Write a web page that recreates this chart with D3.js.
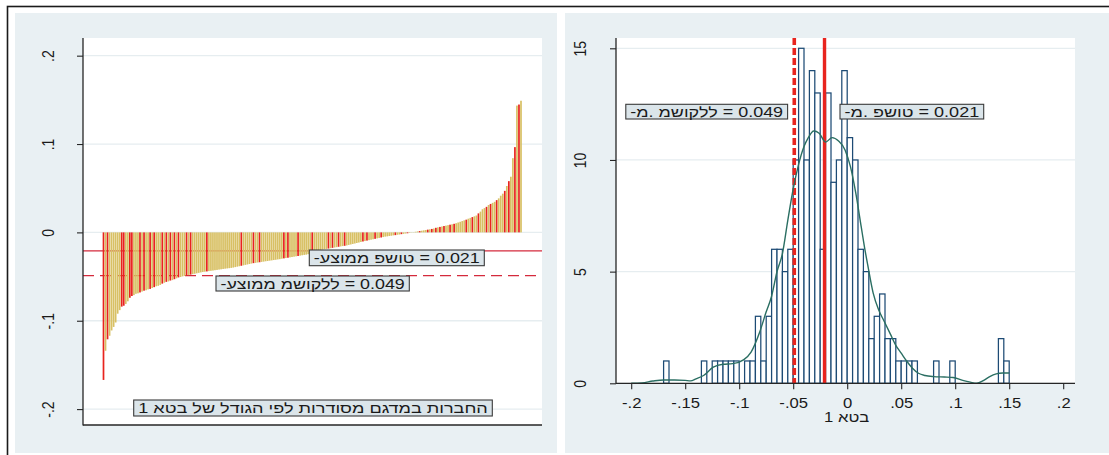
<!DOCTYPE html>
<html>
<head>
<meta charset="utf-8">
<script src="https://cdn.jsdelivr.net/npm/d3@7"></script>
<style>
body { margin: 0; background: #fff; }
text { font-family: "Liberation Sans", Arial, sans-serif; font-size: 14px; fill: #1a1a1a; }
</style>
</head>
<body>
<svg id="chart" width="1109" height="455"></svg>
<script>
// Beta of each firm in the sample (ascending)
var betas = [
  -0.167, -0.134,
  -0.121, -0.117, -0.111, -0.107, -0.102,
  -0.092, -0.088,
  -0.084, -0.083, -0.081, -0.078,
  -0.074, -0.072, -0.071,
  -0.0695, -0.069, -0.068, -0.067, -0.066, -0.0655,
  -0.0645, -0.064, -0.063, -0.062, -0.061, -0.0605,
  -0.0595, -0.058, -0.057, -0.056, -0.0555,
  -0.0545, -0.054, -0.053, -0.052, -0.051, -0.0505,
  -0.0498, -0.0493, -0.0488, -0.0483, -0.0478, -0.0473, -0.0468, -0.0463, -0.0458, -0.0453,
  -0.0448, -0.0445, -0.0442, -0.0438, -0.0435, -0.0432, -0.0428, -0.0425, -0.0421, -0.0418, -0.0414, -0.0411, -0.0408, -0.0405, -0.0402,
  -0.0398, -0.0393, -0.0388, -0.0383, -0.0378, -0.0373, -0.0368, -0.0363, -0.0358, -0.0353,
  -0.0348, -0.0345, -0.0341, -0.0338, -0.0334, -0.0331, -0.0327, -0.0324, -0.032, -0.0317, -0.0313, -0.031, -0.0306, -0.0303,
  -0.0298, -0.0294, -0.029, -0.0287, -0.0283, -0.0279, -0.0275, -0.0271, -0.0267, -0.0263, -0.0259, -0.0255, -0.0252,
  -0.0247, -0.0239, -0.0231, -0.0222, -0.0214, -0.0205,
  -0.0198, -0.0194, -0.019, -0.0187, -0.0183, -0.0179, -0.0175, -0.0171, -0.0167, -0.0163, -0.0159, -0.0155, -0.0152,
  -0.0148, -0.0142, -0.0137, -0.0131, -0.0126, -0.012, -0.0115, -0.0109, -0.0103,
  -0.0098, -0.0093, -0.0088, -0.0083, -0.0078, -0.0073, -0.0068, -0.0063, -0.0058, -0.0053,
  -0.0048, -0.0045, -0.0041, -0.0038, -0.0034, -0.0031, -0.0027, -0.0024, -0.002, -0.0017, -0.0013, -0.001, -0.0006, -0.0003,
  0.0003, 0.0007, 0.0011, 0.0015, 0.0019, 0.0023, 0.0027, 0.0031, 0.0035, 0.0039, 0.0044,
  0.0052, 0.0057, 0.0062, 0.0067, 0.0072, 0.0077, 0.0082, 0.0087, 0.0092, 0.0097,
  0.0104, 0.0112, 0.012, 0.0128, 0.0136, 0.0144,
  0.0155, 0.0164, 0.0173, 0.0182, 0.0191,
  0.0215, 0.0235,
  0.0262, 0.0275, 0.0289,
  0.031, 0.0322, 0.0334, 0.0346,
  0.0365, 0.0385,
  0.0415, 0.0438,
  0.047, 0.0525, 0.058, 0.063,
  0.084, 0.0965,
  0.1435, 0.1447, 0.149
];

// Ranks (in sorted order) of the firms drawn in red
var redRanks = [0, 2, 9, 10, 13, 14, 18, 20, 23, 25, 29, 31, 33, 35, 37, 41, 43, 51, 68, 74, 77,
  89, 91, 96, 103, 111, 113, 116, 119, 128, 130, 134, 137, 144, 147, 150, 156, 160, 162, 164,
  166, 168, 171, 173, 179, 182, 185, 189, 191, 194, 198, 200, 203, 205];

var meanSimple = -0.021, meanWeighted = -0.049;
var binWidth = 0.005;

// Kernel density curve, in frequency units
var kdeX = [-0.2, -0.19, -0.18, -0.17, -0.16, -0.15, -0.145, -0.14, -0.133, -0.124, -0.115, -0.106,
  -0.096, -0.089, -0.081, -0.075, -0.07, -0.065, -0.06, -0.055, -0.05, -0.045, -0.04, -0.036,
  -0.031, -0.026, -0.02, -0.014, -0.008, -0.002, 0.003, 0.008, 0.013, 0.016, 0.019, 0.024, 0.029,
  0.034, 0.04, 0.045, 0.05, 0.055, 0.06, 0.066, 0.072, 0.08, 0.09, 0.098, 0.107, 0.114, 0.12,
  0.126, 0.132, 0.138, 0.144, 0.15];
var kdeY = [0, 0.02, 0.1, 0.15, 0.15, 0.13, 0.11, 0.2, 0.35, 0.72, 0.85, 0.88,
  1.05, 1.4, 2.3, 3.2, 3.9, 5.0, 5.8, 7.3, 8.7, 9.8, 10.6, 11.0,
  11.3, 11.2, 10.8, 11.0, 10.85, 10.45, 9.7, 8.5, 7.0, 6.1, 5.3, 4.05, 3.3,
  2.8, 2.2, 1.7, 1.35, 1.0, 0.7, 0.45, 0.35, 0.3, 0.28, 0.26, 0.13, 0.05, 0.0,
  0.12, 0.3, 0.42, 0.46, 0.46];

var leftTicks = [0.2, 0.1, 0, -0.1, -0.2];
var leftTickLabels = [".2", ".1", "0", "-.1", "-.2"];
var histXTicks = [-0.2, -0.15, -0.1, -0.05, 0, 0.05, 0.1, 0.15, 0.2];
var histXLabels = ["-.2", "-.15", "-.1", "-.05", "0", ".05", ".1", ".15", ".2"];
var histYTicks = [0, 5, 10, 15];
var histYLabels = ["0", "5", "10", "15"];

// texts; the mean labels are written in the glyph order that the picture shows
var sortNote = "החברות במדגם מסודרות לפי הגודל של בטא 1";
var histTitle = "בטא 1";
var leftSimple = "-עצוממ פשוט = 0.021";
var leftWeighted = "-עצוממ משוקלל = 0.049";
var rightSimple = "-מ. פשוט = 0.021";
var rightWeighted = "-מ. משוקלל = 0.049";

var SX = 1.19;   // the picture is a little stretched sideways
var BG = "#e9f0f3", GRID = "#e6edf0", AXIS = "#262626";
var GOLD = "#d8c064", RED = "#e8241e", NAVY = "#1d4b75";

var svg = d3.select("#chart");

// frame and the two graph regions
svg.append("rect").attr("x", 7.5).attr("y", 6.5).attr("width", 1200).attr("height", 500)
  .attr("fill", "none").attr("stroke", "#1a1a1a").attr("stroke-width", 1.6);
svg.append("rect").attr("x", 15).attr("y", 13).attr("width", 542).attr("height", 440).attr("fill", BG);
svg.append("rect").attr("x", 565).attr("y", 13).attr("width", 560).attr("height", 440).attr("fill", BG);

function box(g, x0, y0, x1, y1, str, override) {
  g.append("rect").attr("x", x0).attr("y", y0).attr("width", x1 - x0).attr("height", y1 - y0)
    .attr("fill", "#dbe5ea").attr("stroke", "#3a3a3a").attr("stroke-width", 1.1);
  var t = g.append("text").attr("x", (x0 + x1) / 2).attr("y", (y0 + y1) / 2 + 5)
    .attr("text-anchor", "middle")
    .attr("textLength", x1 - x0 - 9).attr("lengthAdjust", "spacingAndGlyphs")
    .text(str);
  if (override) t.style("unicode-bidi", "bidi-override").style("direction", "ltr");
}

// ---------- left panel: firms sorted by beta ----------
var left = svg.append("g");
var yL = d3.scaleLinear().domain([-0.218, 0.22]).range([425, 38]);
var xL = d3.scaleLinear().domain([1, betas.length]).range([103.5, 521]);

left.append("rect").attr("x", 83).attr("y", 38).attr("width", 459).attr("height", 387).attr("fill", "#fff");

left.selectAll("line.grid").data(leftTicks).enter().append("line")
  .attr("x1", 83).attr("x2", 542).attr("y1", yL).attr("y2", yL)
  .attr("stroke", GRID).attr("stroke-width", 1.3);

left.append("line").attr("x1", 83).attr("x2", 542)
  .attr("y1", yL(meanSimple)).attr("y2", yL(meanSimple))
  .attr("stroke", "#d42a3c").attr("stroke-width", 1.3);
left.append("line").attr("x1", 83).attr("x2", 542)
  .attr("y1", yL(meanWeighted)).attr("y2", yL(meanWeighted))
  .attr("stroke", "#d42a3c").attr("stroke-width", 1.3).attr("stroke-dasharray", "11,6");

var sorted = betas.slice().sort(d3.ascending);
var isRed = {};
redRanks.forEach(function(r) { isRed[r] = true; });

left.selectAll("rect.bar").data(sorted).enter().append("rect")
  .attr("class", "bar")
  .attr("x", function(d, i) { return xL(i + 1) - 0.85; })
  .attr("width", 1.7)
  .attr("y", function(d) { return Math.min(yL(d), yL(0)); })
  .attr("height", function(d) { return Math.abs(yL(d) - yL(0)); })
  .attr("fill", function(d, i) { return isRed[i] ? RED : GOLD; });

var axL = left.append("g").attr("transform", "translate(83,0)")
  .call(d3.axisLeft(yL).tickValues(leftTicks).tickSize(6)
    .tickFormat(function(d, i) { return leftTickLabels[i]; }));
axL.select(".domain").remove();
axL.selectAll(".tick line").attr("stroke", AXIS).attr("stroke-width", 1.1);
axL.selectAll(".tick text").attr("x", null).attr("dy", null).attr("fill", null)
  .attr("text-anchor", "middle")
  .attr("transform", "translate(-29.5,0) scale(" + SX + ",1) rotate(-90)");
left.append("line").attr("x1", 83).attr("x2", 83).attr("y1", 38).attr("y2", 425.5)
  .attr("stroke", AXIS).attr("stroke-width", 1.3);
left.append("line").attr("x1", 83).attr("x2", 542).attr("y1", 425).attr("y2", 425)
  .attr("stroke", AXIS).attr("stroke-width", 1.3);

box(left, 309.3, 250, 484.3, 265.7, leftSimple, true);
box(left, 216, 276, 409.3, 291, leftWeighted, true);
box(left, 133.7, 400, 492.3, 416, sortNote, false);

// ---------- right panel: histogram of betas ----------
var right = svg.append("g");
var xR = d3.scaleLinear().domain([-0.2, 0.2]).range([631.2, 1063.2]);
var yR = d3.scaleLinear().domain([0, 15]).range([383.3, 48.3]);

right.append("rect").attr("x", 616).attr("y", 38).attr("width", 459).attr("height", 345.3).attr("fill", "#fff");
right.selectAll("line.grid").data(histYTicks).enter().append("line")
  .attr("x1", 616).attr("x2", 1075).attr("y1", yR).attr("y2", yR)
  .attr("stroke", GRID).attr("stroke-width", 1.3);

var thresholds = d3.range(1, 80).map(function(k) { return -0.2 + k * binWidth; });
var bins = d3.bin().domain([-0.2, 0.2]).thresholds(thresholds)(betas)
  .filter(function(b) { return b.length > 0; });

right.selectAll("rect.hbar").data(bins).enter().append("rect")
  .attr("x", function(b) { return xR(b.x0); })
  .attr("width", function(b) { return xR(b.x1) - xR(b.x0); })
  .attr("y", function(b) { return yR(b.length); })
  .attr("height", function(b) { return yR(0) - yR(b.length); })
  .attr("fill", "#fff").attr("stroke", NAVY).attr("stroke-width", 1.25);

right.append("line").attr("x1", xR(meanWeighted)).attr("x2", xR(meanWeighted))
  .attr("y1", 38).attr("y2", 383.3)
  .attr("stroke", RED).attr("stroke-width", 3.6).attr("stroke-dasharray", "7,3");
right.append("line").attr("x1", xR(meanSimple)).attr("x2", xR(meanSimple))
  .attr("y1", 38).attr("y2", 383.3)
  .attr("stroke", RED).attr("stroke-width", 3.4);

var kde = d3.line().x(function(d) { return xR(d[0]); }).y(function(d) { return yR(d[1]); })
  .curve(d3.curveMonotoneX);
right.append("path").datum(d3.zip(kdeX, kdeY)).attr("d", kde)
  .attr("fill", "none").attr("stroke", "#2a6e62").attr("stroke-width", 1.4);

var axRx = right.append("g").attr("transform", "translate(0,383.3)")
  .call(d3.axisBottom(xR).tickValues(histXTicks).tickSize(6)
    .tickFormat(function(d, i) { return histXLabels[i]; }));
axRx.select(".domain").remove();
axRx.selectAll(".tick line").attr("stroke", AXIS).attr("stroke-width", 1.1);
axRx.selectAll(".tick text").attr("y", null).attr("dy", null).attr("fill", null)
  .attr("transform", "translate(0,24.4) scale(" + SX + ",1)");

var axRy = right.append("g").attr("transform", "translate(616,0)")
  .call(d3.axisLeft(yR).tickValues(histYTicks).tickSize(6)
    .tickFormat(function(d, i) { return histYLabels[i]; }));
axRy.select(".domain").remove();
axRy.selectAll(".tick line").attr("stroke", AXIS).attr("stroke-width", 1.1);
axRy.selectAll(".tick text").attr("x", null).attr("dy", null).attr("fill", null)
  .attr("text-anchor", "middle")
  .attr("transform", "translate(-29.7,0) scale(" + SX + ",1) rotate(-90)");

right.append("line").attr("x1", 616).attr("x2", 616).attr("y1", 38).attr("y2", 383.8)
  .attr("stroke", AXIS).attr("stroke-width", 1.3);
right.append("line").attr("x1", 616).attr("x2", 1075).attr("y1", 383.3).attr("y2", 383.3)
  .attr("stroke", AXIS).attr("stroke-width", 1.3);

right.append("text").attr("text-anchor", "middle")
  .attr("transform", "translate(846.7,421.5) scale(" + SX + ",1)")
  .text(histTitle);

box(right, 625.8, 104.3, 787.6, 119, rightWeighted, true);
box(right, 840, 104.3, 983.7, 119, rightSimple, true);
</script>
</body>
</html>
